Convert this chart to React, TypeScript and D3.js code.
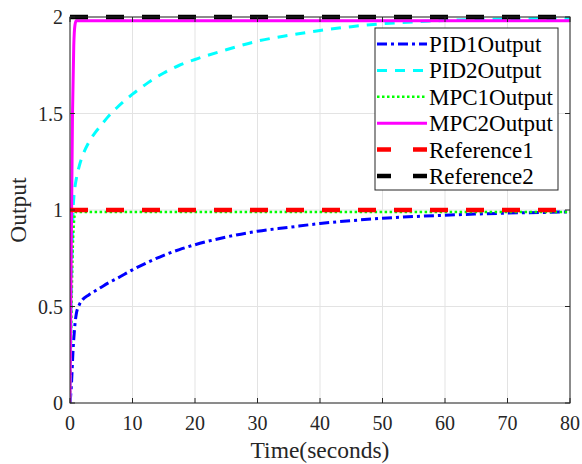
import React, { useEffect, useRef } from "react";
import * as d3 from "d3";

// time samples (seconds) for the PID responses
const pidTime = [0, 0.2, 0.5, 0.8, 1, 1.5, 2, 3, 4, 5, 6, 7.5, 10, 12.5, 15, 17.5, 20, 25, 30, 35, 40, 45, 50, 55, 60, 65, 70, 75, 80];
const pid1Output = [0, 0.08, 0.28, 0.41, 0.46, 0.51, 0.535, 0.56, 0.58, 0.6, 0.62, 0.645, 0.69, 0.73, 0.765, 0.795, 0.82, 0.86, 0.89, 0.91, 0.93, 0.945, 0.957, 0.966, 0.973, 0.979, 0.984, 0.987, 0.99];
const pid2Output = [0, 0.55, 1.0, 1.12, 1.16, 1.23, 1.28, 1.35, 1.4, 1.44, 1.48, 1.53, 1.6, 1.66, 1.71, 1.75, 1.78, 1.83, 1.875, 1.905, 1.93, 1.95, 1.965, 1.975, 1.982, 1.987, 1.99, 1.992, 1.993];

// MPC responses settle almost immediately
const mpcTime = [0, 0.2, 0.4, 0.6, 0.8, 1, 80];
const mpc1Output = [0, 0.4, 0.75, 0.92, 0.98, 0.99, 0.99];
const mpc2Output = [0, 0.8, 1.5, 1.85, 1.96, 1.98, 1.98];

const refTime = [0, 80];
const reference1 = [1, 1];
const reference2 = [2, 2];

const xTicks = [0, 10, 20, 30, 40, 50, 60, 70, 80];
const yTicks = [0, 0.5, 1, 1.5, 2];

const seriesNames = ["PID1Output", "PID2Output", "MPC1Output", "MPC2Output", "Reference1", "Reference2"];

const W = 582, H = 464;
const margin = { left: 70, right: 12, top: 17, bottom: 61 };
const font = "Times New Roman, Liberation Serif, DejaVu Serif, serif";

function Chart() {
  const ref = useRef<SVGSVGElement>(null);

  useEffect(() => {
    const svg = d3.select(ref.current);
    svg.selectAll("*").remove();

    const x = d3.scaleLinear().domain([0, 80]).range([margin.left, W - margin.right]);
    const y = d3.scaleLinear().domain([0, 2]).range([H - margin.bottom, margin.top]);

    svg.append("rect").attr("width", W).attr("height", H).attr("fill", "#fff");

    // grid
    const grid = svg.append("g").attr("stroke", "#e3e3e3").attr("stroke-width", 1);
    xTicks.forEach((t) => {
      grid.append("line").attr("x1", x(t)).attr("x2", x(t)).attr("y1", y(0)).attr("y2", y(2));
    });
    yTicks.forEach((t) => {
      grid.append("line").attr("x1", x(0)).attr("x2", x(80)).attr("y1", y(t)).attr("y2", y(t));
    });

    const series = [
      { xs: pidTime, ys: pid1Output, color: "#0000ff", width: 3, dash: "10,4,3,4" },
      { xs: pidTime, ys: pid2Output, color: "#00ffff", width: 3, dash: "10,8" },
      { xs: mpcTime, ys: mpc1Output, color: "#00ff00", width: 2.5, dash: "2.5,2.5" },
      { xs: mpcTime, ys: mpc2Output, color: "#ff00ff", width: 3, dash: null },
      { xs: refTime, ys: reference1, color: "#ff0000", width: 4.5, dash: "18,18" },
      { xs: refTime, ys: reference2, color: "#000000", width: 4.5, dash: "18,18" },
    ];

    const line = d3.line<[number, number]>()
      .x((d) => x(d[0]))
      .y((d) => y(d[1]))
      .curve(d3.curveMonotoneX);

    svg.append("clipPath").attr("id", "plotclip")
      .append("rect")
      .attr("x", x(0)).attr("y", y(2) - 4)
      .attr("width", x(80) - x(0)).attr("height", y(0) - y(2) + 8);

    const plot = svg.append("g").attr("clip-path", "url(#plotclip)");
    series.forEach((s) => {
      const pts = s.xs.map((t, i) => [t, s.ys[i]] as [number, number]);
      plot.append("path")
        .attr("d", line(pts))
        .attr("fill", "none")
        .attr("stroke", s.color)
        .attr("stroke-width", s.width)
        .attr("stroke-dasharray", s.dash)
        .attr("stroke-linejoin", "round");
    });

    // box + ticks
    const axes = svg.append("g").attr("stroke", "#262626").attr("stroke-width", 1);
    axes.append("rect")
      .attr("x", x(0)).attr("y", y(2))
      .attr("width", x(80) - x(0)).attr("height", y(0) - y(2))
      .attr("fill", "none");
    xTicks.forEach((t) => {
      axes.append("line").attr("x1", x(t)).attr("x2", x(t)).attr("y1", y(0)).attr("y2", y(0) - 5);
      axes.append("line").attr("x1", x(t)).attr("x2", x(t)).attr("y1", y(2)).attr("y2", y(2) + 5);
    });
    yTicks.forEach((t) => {
      axes.append("line").attr("x1", x(0)).attr("x2", x(0) + 5).attr("y1", y(t)).attr("y2", y(t));
      axes.append("line").attr("x1", x(80)).attr("x2", x(80) - 5).attr("y1", y(t)).attr("y2", y(t));
    });

    const labels = svg.append("g").attr("font-family", font).attr("fill", "#262626").attr("font-size", 20);
    xTicks.forEach((t) => {
      labels.append("text").attr("x", x(t)).attr("y", y(0) + 27).attr("text-anchor", "middle").text(t);
    });
    yTicks.forEach((t) => {
      labels.append("text").attr("x", x(0) - 7).attr("y", y(t) + 7).attr("text-anchor", "end").text(t);
    });

    svg.append("text")
      .attr("x", (x(0) + x(80)) / 2).attr("y", 458)
      .attr("text-anchor", "middle")
      .attr("font-family", font).attr("font-size", 23.5).attr("fill", "#262626")
      .text("Time(seconds)");
    svg.append("text")
      .attr("transform", `translate(26,${(y(0) + y(2)) / 2}) rotate(-90)`)
      .attr("text-anchor", "middle")
      .attr("font-family", font).attr("font-size", 23.5).attr("fill", "#262626")
      .text("Output");

    // legend
    const lg = svg.append("g").attr("transform", "translate(375,28)");
    lg.append("rect").attr("width", 183).attr("height", 162)
      .attr("fill", "#fff").attr("stroke", "#262626").attr("stroke-width", 1);
    series.forEach((s, i) => {
      const ly = 16 + i * 26.4;
      lg.append("line")
        .attr("x1", 2).attr("x2", 52).attr("y1", ly).attr("y2", ly)
        .attr("stroke", s.color).attr("stroke-width", s.width)
        .attr("stroke-dasharray", i >= 4 ? "14,22" : s.dash);
      lg.append("text")
        .attr("x", 54).attr("y", ly + 8)
        .attr("font-family", font).attr("font-size", 23).attr("fill", "#000")
        .text(seriesNames[i]);
    });
  }, []);

  return <svg ref={ref} width={W} height={H} style={{ position: "absolute", left: 0, top: 0 }} />;
}

export default function App() {
  return <Chart />;
}
